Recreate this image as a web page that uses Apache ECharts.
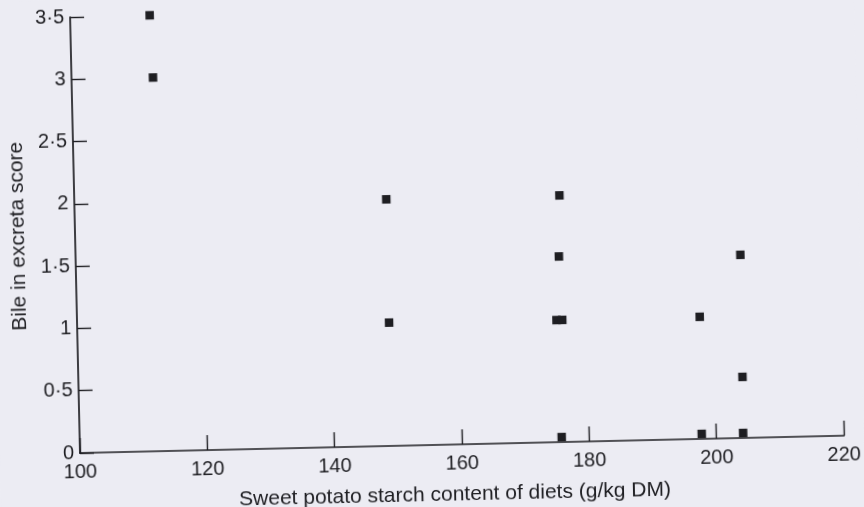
<!DOCTYPE html>
<html>
<head>
<meta charset="utf-8">
<script src="https://cdn.jsdelivr.net/npm/echarts@6/dist/echarts.min.js"></script>
<style>
  html, body { margin: 0; padding: 0; background: #ececf3; overflow: hidden; width: 864px; height: 507px; }
  #chart { position: absolute; left: 0; top: 0; width: 864px; height: 530px;
           transform-origin: 80px 453px; transform: rotate(-1.3deg); }
</style>
</head>
<body>
<div id="chart"></div>
<script>
// Data (x: starch g/kg DM, y: bile score)
const starchContent = [112.5, 112.8, 149.0, 149.0, 176.2, 175.9, 175.3, 176.2, 175.7, 197.8, 197.7, 204.4, 204.3, 204.2];
const bileScore     = [3.5,   3.0,   1.98,  0.99,  1.98,  1.49,  0.98,  0.98,  0.04,  0.98,  0.04,  1.47,  0.49,  0.04];
const xTicks = [100, 120, 140, 160, 180, 200, 220];
const yTicks = [0, 0.5, 1, 1.5, 2, 2.5, 3, 3.5];

const points = starchContent.map((x, i) => [x, bileScore[i]]);
const ink = '#1e1e22';
const font = 'Liberation Sans, Arial, Helvetica, sans-serif';
const chart = echarts.init(document.getElementById('chart'), null, { renderer: 'canvas' });
chart.setOption({
  backgroundColor: '#ececf3',
  animation: false,
  grid: { left: 80, right: 20, top: 17, bottom: 77, containLabel: false },
  xAxis: {
    type: 'value',
    min: xTicks[0], max: xTicks[xTicks.length - 1], interval: 20,
    name: 'Sweet potato starch content of diets (g/kg DM)',
    nameLocation: 'middle', nameGap: 40,
    nameTextStyle: { color: ink, fontSize: 21, fontFamily: font, padding: [0, 16, 0, 0] },
    axisLine: { show: true, lineStyle: { color: ink, width: 1.7 } },
    axisTick: { show: true, inside: true, length: 15, lineStyle: { color: ink, width: 1.4 } },
    axisLabel: { color: ink, fontSize: 20, margin: 9, fontFamily: font },
    splitLine: { show: false }
  },
  yAxis: {
    type: 'value',
    min: yTicks[0], max: yTicks[yTicks.length - 1], interval: 0.5,
    name: 'Bile in excreta score',
    nameLocation: 'middle', nameGap: 46,
    nameTextStyle: { color: ink, fontSize: 21, fontFamily: font },
    axisLine: { show: true, lineStyle: { color: ink, width: 1.7 } },
    axisTick: { show: true, inside: true, length: 14, lineStyle: { color: ink, width: 1.4 } },
    axisLabel: {
      color: ink, fontSize: 20, margin: 6, fontFamily: font,
      formatter: v => String(v).replace('.', '·')
    },
    splitLine: { show: false }
  },
  series: [{
    type: 'scatter',
    data: points,
    symbol: 'rect',
    symbolSize: 8.5,
    itemStyle: { color: ink, opacity: 1 }
  }]
});
</script>
</body>
</html>
